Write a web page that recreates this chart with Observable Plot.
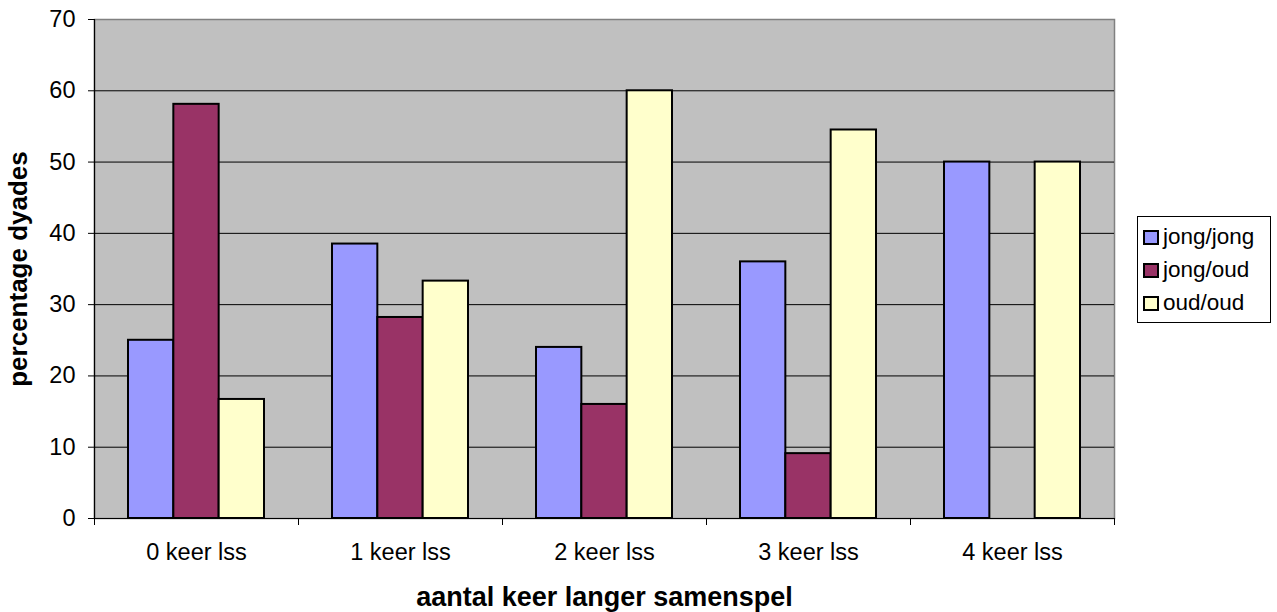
<!DOCTYPE html>
<html><head><meta charset="utf-8">
<script src="https://cdn.jsdelivr.net/npm/d3@7"></script>
<script src="https://cdn.jsdelivr.net/npm/@observablehq/plot@0.6"></script>
<style>
body{margin:0;background:#fff;font-family:"Liberation Sans",Arial,sans-serif}
#wrap{position:relative;width:1277px;height:612px}
#wrap svg{display:block}
.legend{position:absolute;left:1137px;top:216px;width:134px;height:107px;border:1px solid #000;background:#fff;box-sizing:border-box}
.row{position:absolute;left:5px;height:24px;display:flex;align-items:center;font-size:22.5px;color:#000;white-space:nowrap}
.sw{width:12px;height:11px;border:2px solid #000;margin-right:4px;flex:none}
</style></head><body><div id="wrap"></div>
<script>
const categories = ["0 keer lss","1 keer lss","2 keer lss","3 keer lss","4 keer lss"];
const seriesNames = ["jong/jong","jong/oud","oud/oud"];
const jongJong = [25, 38.5, 24, 36, 50];
const jongOud = [58.1, 28.2, 16, 9.1, null];
const oudOud = [16.7, 33.3, 60, 54.5, 50];
const colors = ["#9999FF","#993366","#FFFFCC"];
const yTicks = [0,10,20,30,40,50,60,70];
const xTitle = "aantal keer langer samenspel";
const yTitle = "percentage dyades";

const seriesValues = [jongJong, jongOud, oudOud];
const table = [];
categories.forEach((c, g) => seriesNames.forEach((s, si) => {
  const v = seriesValues[si][g];
  if (v != null) table.push({category: c, series: s, value: v, g, si});
}));
const gap = 1/6, bw = 2/9;

const chart = Plot.plot({
  width: 1277, height: 612,
  marginLeft: 94, marginRight: 163, marginTop: 19, marginBottom: 94,
  style: {fontFamily: "Liberation Sans, Arial, sans-serif", fontSize: "23px", color: "#000", background: "#fff"},
  x: {type: "linear", domain: [0, categories.length], axis: null},
  y: {domain: [0, 70], axis: null},
  color: {domain: seriesNames, range: colors},
  marks: [
    Plot.frame({fill: "#C0C0C0", stroke: "#808080", strokeWidth: 1.5}),
    Plot.ruleY(yTicks.filter(t => t > 0 && t < 70), {stroke: "#000", strokeWidth: 1}),
    Plot.rectY(table, {
      x1: d => d.g + gap + d.si * bw,
      x2: d => d.g + gap + (d.si + 1) * bw,
      y1: 0, y2: "value",
      fill: "series", stroke: "#000", strokeWidth: 2
    }),
    Plot.ruleX([0], {stroke: "#000", strokeWidth: 1.2}),
    Plot.ruleY([0], {stroke: "#000", strokeWidth: 1.2}),
    Plot.axisY({ticks: yTicks, tickSize: 6, tickPadding: 13, label: null, fontSize: 23.5}),
    Plot.axisX({ticks: d3.range(categories.length + 1), tickSize: 7, tickFormat: () => "", label: null}),
    Plot.text(categories, {x: (d, i) => i + 0.5, y: 0, dy: 34, text: d => d, fontSize: 23.5}),
    Plot.text([xTitle], {frameAnchor: "bottom", lineAnchor: "middle", dy: 79, text: d => d, fontSize: 27, fontWeight: "bold"}),
    Plot.text([yTitle], {frameAnchor: "left", textAnchor: "middle", lineAnchor: "middle", dx: -76, rotate: -90, text: d => d, fontSize: 26, fontWeight: "bold"})
  ]
});
const wrap = document.getElementById("wrap");
wrap.appendChild(chart);

const legend = document.createElement("div");
legend.className = "legend";
seriesNames.forEach((s, i) => {
  const row = document.createElement("div");
  row.className = "row";
  row.style.top = (8 + i * 33) + "px";
  const sw = document.createElement("span");
  sw.className = "sw";
  sw.style.background = colors[i];
  const t = document.createElement("span");
  t.textContent = s;
  row.appendChild(sw); row.appendChild(t);
  legend.appendChild(row);
});
wrap.appendChild(legend);
</script></body></html>
